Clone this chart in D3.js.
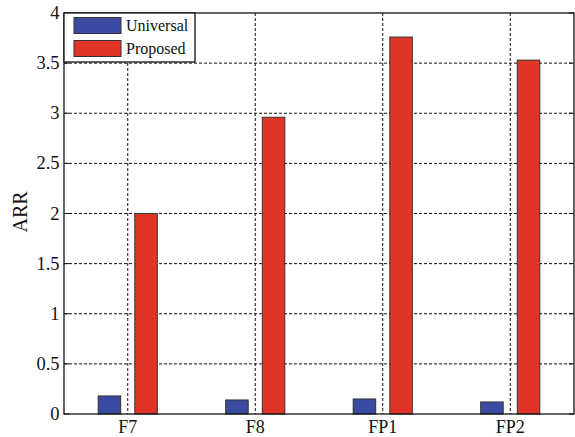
<!DOCTYPE html>
<html><head><meta charset="utf-8">
<script src="https://cdn.jsdelivr.net/npm/d3@7"></script>
<style>body{margin:0;background:#fff}svg{display:block}</style>
</head><body><svg id="c" width="575" height="437"></svg>
<script>
const categories = ["F7", "F8", "FP1", "FP2"];
const universal = [0.18, 0.14, 0.15, 0.12];
const proposed = [2.0, 2.96, 3.76, 3.53];
const seriesNames = ["Universal", "Proposed"];
const yTicks = [0, 0.5, 1, 1.5, 2, 2.5, 3, 3.5, 4];
const yTickLabels = ["0", "0.5", "1", "1.5", "2", "2.5", "3", "3.5", "4"];

const svg = d3.select("#c");
const L = 64, R = 574, T = 13, B = 414;
const font = "Liberation Serif, Times New Roman, serif";
const x = d3.scaleBand().domain(categories).range([L, R]).padding(0);
const y = d3.scaleLinear().domain([0, 4]).range([B, T]);
const colors = ["#3a4aa0", "#e03426"];

// grid
const g = svg.append("g");
g.selectAll(".hg").data(yTicks.slice(1, -1)).join("line")
  .attr("x1", L).attr("x2", R).attr("y1", d => y(d)).attr("y2", d => y(d))
  .attr("stroke", "#111").attr("stroke-width", 1).attr("stroke-dasharray", "3,2");
g.selectAll(".vg").data(categories).join("line")
  .attr("x1", d => x(d) + x.bandwidth() / 2).attr("x2", d => x(d) + x.bandwidth() / 2)
  .attr("y1", T).attr("y2", B)
  .attr("stroke", "#111").attr("stroke-width", 1).attr("stroke-dasharray", "3,2");

// bars
const bw = 22.5, off = 18.3;
const data = [universal, proposed];
data.forEach((vals, s) => {
  svg.append("g").selectAll("rect").data(categories).join("rect")
    .attr("x", (d, i) => x(d) + x.bandwidth() / 2 + (s === 0 ? -off : off) - bw / 2)
    .attr("y", (d, i) => y(vals[i]))
    .attr("width", bw)
    .attr("height", (d, i) => B - y(vals[i]))
    .attr("fill", colors[s]).attr("stroke", "#333").attr("stroke-width", 1);
});

// frame
svg.append("rect").attr("x", L).attr("y", T).attr("width", R - L).attr("height", B - T)
  .attr("fill", "none").attr("stroke", "#111").attr("stroke-width", 1.3);

// ticks inward
yTicks.forEach(t => {
  svg.append("line").attr("x1", L).attr("x2", L + 5).attr("y1", y(t)).attr("y2", y(t)).attr("stroke", "#111");
  svg.append("line").attr("x1", R - 5).attr("x2", R).attr("y1", y(t)).attr("y2", y(t)).attr("stroke", "#111");
});

// y axis labels
svg.append("g").selectAll("text").data(yTicks).join("text")
  .attr("x", L - 4.5).attr("y", d => y(d) + 6)
  .attr("text-anchor", "end").attr("font-family", font).attr("font-size", 18.5)
  .attr("fill", "#111").text((d, i) => yTickLabels[i]);

// x labels
svg.append("g").selectAll("text").data(categories).join("text")
  .attr("x", d => x(d) + x.bandwidth() / 2).attr("y", 433)
  .attr("text-anchor", "middle").attr("font-family", font).attr("font-size", 18)
  .attr("fill", "#111").text(d => d);

// y title
svg.append("text").attr("transform", "translate(27,212) rotate(-90)")
  .attr("text-anchor", "middle").attr("font-family", font).attr("font-size", 20)
  .attr("fill", "#111").text("ARR");

// legend
const lg = svg.append("g");
lg.append("rect").attr("x", L).attr("y", T).attr("width", 131).attr("height", 49)
  .attr("fill", "#fff").attr("stroke", "#111").attr("stroke-width", 1.3);
seriesNames.forEach((n, i) => {
  lg.append("rect").attr("x", 74).attr("y", 17.5 + i * 23).attr("width", 47).attr("height", 16)
    .attr("fill", colors[i]).attr("stroke", "#333");
  lg.append("text").attr("x", 126).attr("y", 31 + i * 23).attr("font-family", font)
    .attr("font-size", 16).attr("fill", "#111").text(n);
});
</script></body></html>
